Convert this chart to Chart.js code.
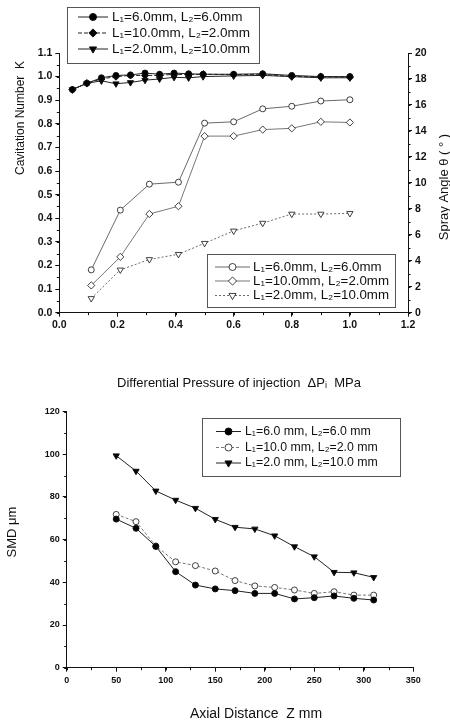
<!DOCTYPE html>
<html>
<head>
<meta charset="utf-8">
<script src="https://cdn.jsdelivr.net/npm/chart.js@4.4.0/dist/chart.umd.min.js"></script>
<style>
html, body { margin: 0; padding: 0; background: #fff; }
#wrap { position: relative; width: 450px; height: 724px; }
#top { position: absolute; left: 0; top: 0; }
#bottom { position: absolute; left: 0; top: 400px; }
</style>
</head>
<body>
<div id="wrap">
  <canvas id="top" width="450" height="400"></canvas>
  <canvas id="bottom" width="450" height="324"></canvas>
</div>
<script>
// cavitation number K vs pressure
var pressureK = [0.045, 0.095, 0.145, 0.195, 0.245, 0.295, 0.345, 0.395, 0.445, 0.495, 0.6, 0.7, 0.8, 0.9, 1.0];
var kL6  = [0.945, 0.972, 0.995, 1.005, 1.007, 1.015, 1.01, 1.015, 1.012, 1.01, 1.01, 1.012, 1.005, 1.0, 1.0];
var kL10 = [0.945, 0.972, 0.99, 1.0, 1.005, 1.005, 1.005, 1.01, 1.008, 1.01, 1.008, 1.01, 1.0, 1.0, 0.998];
var kL2  = [0.945, 0.972, 0.982, 0.97, 0.975, 0.985, 0.99, 0.997, 0.995, 1.0, 1.003, 1.005, 1.0, 0.995, 0.995];

// spray angle vs pressure
var pressureAngle = [0.11, 0.21, 0.31, 0.41, 0.5, 0.6, 0.7, 0.8, 0.9, 1.0];
var angleL6  = [3.3, 7.9, 9.9, 10.05, 14.6, 14.7, 15.7, 15.9, 16.3, 16.4];
var angleL10 = [2.1, 4.3, 7.6, 8.2, 13.6, 13.6, 14.1, 14.2, 14.7, 14.65];
var angleL2  = [1.1, 3.3, 4.1, 4.5, 5.35, 6.3, 6.9, 7.6, 7.6, 7.65];

// SMD vs axial distance
var axialZ = [50, 70, 90, 110, 130, 150, 170, 190, 210, 230, 250, 270, 290, 310];
var smdL6  = [69.6, 65.3, 56.8, 45, 38.7, 36.9, 36.1, 34.8, 34.8, 32.2, 32.8, 33.6, 32.5, 31.7];
var smdL10 = [71.8, 68.4, 57, 49.6, 47.8, 45.3, 40.8, 38.3, 37.6, 36.4, 34.8, 35.6, 34, 34];
var smdL2  = [99.3, 92.1, 82.8, 78.5, 74.7, 69.5, 65.8, 65, 61.8, 56.7, 52, 44.7, 44.5, 42.3];

var labelsTop = ['L\u2081=6.0mm, L\u2082=6.0mm', 'L\u2081=10.0mm, L\u2082=2.0mm', 'L\u2081=2.0mm, L\u2082=10.0mm'];
var labelsBottom = ['L\u2081=6.0 mm, L\u2082=6.0 mm', 'L\u2081=10.0 mm, L\u2082=2.0 mm', 'L\u2081=2.0 mm, L\u2082=10.0 mm'];

var FONT = '"Liberation Sans", Arial, Helvetica, sans-serif';
Chart.defaults.font.family = FONT;
Chart.defaults.color = '#111';

function pts(xs, ys) {
  return xs.map(function (x, i) { return { x: x, y: ys[i] }; });
}

function series(label, xs, ys, axis, style, filled, extra) {
  var ds = {
    label: label,
    data: pts(xs, ys),
    yAxisID: axis,
    borderColor: '#222',
    borderWidth: 1,
    pointStyle: style === 'down' ? 'triangle' : style,
    pointRotation: style === 'down' ? 180 : 0,
    pointRadius: style === 'circle' ? 3 : 3.6,
    pointBackgroundColor: filled ? '#000' : '#fff',
    pointBorderColor: '#111',
    pointBorderWidth: filled ? 1 : 0.8,
    tension: 0,
    fill: false
  };
  for (var k in extra) ds[k] = extra[k];
  return ds;
}

// minor ticks, free axis titles and boxed legends
var decor = {
  id: 'decor',
  afterDraw: function (chart, args, opts) {
    var ctx = chart.ctx, area = chart.chartArea;
    ctx.save();
    ctx.strokeStyle = '#111';
    ctx.lineWidth = 1;
    (opts.minor || []).forEach(function (m) {
      var s = chart.scales[m.id];
      ctx.beginPath();
      for (var v = s.min; v <= s.max + 1e-9; v += m.step) {
        var p = Math.round(s.getPixelForValue(v)) + 0.5;
        if (s.isHorizontal()) {
          ctx.moveTo(p, area.bottom); ctx.lineTo(p, area.bottom + m.len);
        } else if (s.position === 'left') {
          ctx.moveTo(area.left, p); ctx.lineTo(area.left - m.len, p);
        } else {
          ctx.moveTo(area.right, p); ctx.lineTo(area.right + m.len, p);
        }
      }
      ctx.stroke();
    });

    (opts.titles || []).forEach(function (t) {
      ctx.save();
      ctx.translate(t.x, t.y);
      ctx.rotate(t.rot || 0);
      ctx.font = t.font;
      ctx.fillStyle = '#111';
      ctx.textAlign = 'center';
      ctx.textBaseline = 'middle';
      ctx.fillText(t.text, 0, 0);
      ctx.restore();
    });

    (opts.legends || []).forEach(function (L) {
      var b = L.box;
      ctx.fillStyle = '#fff';
      ctx.fillRect(b[0], b[1], b[2], b[3]);
      ctx.strokeStyle = '#555';
      ctx.lineWidth = 1;
      ctx.strokeRect(Math.round(b[0]) + 0.5, Math.round(b[1]) + 0.5, b[2], b[3]);
      L.items.forEach(function (di, i) {
        var ds = chart.data.datasets[di];
        var y = L.rows[i];
        ctx.strokeStyle = ds.borderColor;
        ctx.lineWidth = ds.borderWidth;
        ctx.setLineDash(ds.borderDash || []);
        ctx.beginPath();
        ctx.moveTo(L.line[0], y); ctx.lineTo(L.line[1], y);
        ctx.stroke();
        ctx.setLineDash([]);
        ctx.fillStyle = ds.pointBackgroundColor;
        ctx.strokeStyle = ds.pointBorderColor;
        ctx.lineWidth = ds.pointBorderWidth;
        Chart.helpers.drawPoint(ctx, {
          pointStyle: ds.pointStyle,
          rotation: ds.pointRotation,
          radius: ds.pointRadius + 0.5,
          borderWidth: ds.pointBorderWidth
        }, (L.line[0] + L.line[1]) / 2, y);
        ctx.fillStyle = '#111';
        ctx.font = L.font;
        ctx.textAlign = 'left';
        ctx.textBaseline = 'middle';
        ctx.fillText(ds.label, L.textX, y);
      });
    });
    ctx.restore();
  }
};

function axis(extra) {
  var a = {
    type: 'linear',
    grid: { drawOnChartArea: false, tickLength: 4, color: '#111', tickColor: '#111' },
    border: { color: '#111', width: 1 },
    ticks: { color: '#111', padding: 2, font: { size: 10, weight: 'bold' } }
  };
  for (var k in extra) a[k] = extra[k];
  return a;
}

new Chart(document.getElementById('top'), {
  type: 'line',
  data: {
    datasets: [
      series(labelsTop[0], pressureK, kL6, 'y', 'circle', true, {}),
      series(labelsTop[1], pressureK, kL10, 'y', 'rectRot', true, { borderDash: [4, 2] }),
      series(labelsTop[2], pressureK, kL2, 'y', 'down', true, {}),
      series(labelsTop[0], pressureAngle, angleL6, 'y1', 'circle', false, { borderColor: '#444', borderWidth: 0.8 }),
      series(labelsTop[1], pressureAngle, angleL10, 'y1', 'rectRot', false, { borderColor: '#555', borderWidth: 0.8 }),
      series(labelsTop[2], pressureAngle, angleL2, 'y1', 'down', false, { borderColor: '#444', borderWidth: 0.8, borderDash: [2, 2] })
    ]
  },
  options: {
    responsive: false,
    animation: false,
    layout: { padding: { top: 53, left: 0, right: 0, bottom: 0 } },
    plugins: {
      legend: { display: false },
      tooltip: { enabled: false },
      decor: {
        minor: [{ id: 'x', step: 0.1, len: 2.5 }, { id: 'y', step: 0.05, len: 2.5 }, { id: 'y1', step: 1, len: 2.5 }],
        titles: [
          { text: 'Cavitation Number  K', x: 21, y: 118, rot: -Math.PI / 2, font: '12px ' + FONT },
          { text: 'Spray Angle \u03b8 ( \u00b0 )', x: 444, y: 187, rot: -Math.PI / 2, font: '13px ' + FONT },
          { text: 'Differential Pressure of injection  \u0394P\u1d62  MPa', x: 239, y: 383, font: '13px ' + FONT }
        ],
        legends: [
          { box: [67, 7, 192, 56], rows: [17, 33, 49], line: [78, 108], textX: 112, items: [0, 1, 2], font: '13.5px ' + FONT },
          { box: [207, 254, 188, 53], rows: [267, 281, 295.5], line: [215, 250], textX: 253, items: [3, 4, 5], font: '13.3px ' + FONT }
        ]
      }
    },
    scales: {
      x: axis({
        position: 'bottom', min: 0, max: 1.2,
        ticks: { color: '#111', padding: 2, stepSize: 0.2, font: { size: 10.5, weight: 'bold' },
          callback: function (v) { return v.toFixed(1); } },
        afterFit: function (s) { s.height = 87.3; }
      }),
      y: axis({
        position: 'left', min: 0, max: 1.1,
        ticks: { color: '#111', padding: 3, stepSize: 0.1, font: { size: 10.5, weight: 'bold' },
          callback: function (v) { return v.toFixed(1); } },
        afterFit: function (s) { s.width = 59.3; }
      }),
      y1: axis({
        position: 'right', min: 0, max: 20,
        ticks: { color: '#111', padding: 3, stepSize: 2, font: { size: 10.5, weight: 'bold' } },
        afterFit: function (s) { s.width = 42; }
      })
    }
  },
  plugins: [decor]
});

new Chart(document.getElementById('bottom'), {
  type: 'line',
  data: {
    datasets: [
      series(labelsBottom[0], axialZ, smdL6, 'y', 'circle', true, {}),
      series(labelsBottom[1], axialZ, smdL10, 'y', 'circle', false, { borderColor: '#555', borderWidth: 0.8, borderDash: [3, 2] }),
      series(labelsBottom[2], axialZ, smdL2, 'y', 'down', true, {})
    ]
  },
  options: {
    responsive: false,
    animation: false,
    layout: { padding: { top: 11.5, left: 0, right: 36.7, bottom: 0 } },
    plugins: {
      legend: { display: false },
      tooltip: { enabled: false },
      decor: {
        minor: [{ id: 'x', step: 25, len: 2.5 }, { id: 'y', step: 10, len: 2.5 }],
        titles: [
          { text: 'SMD \u03bcm', x: 12.5, y: 132, rot: -Math.PI / 2, font: '13px ' + FONT },
          { text: 'Axial Distance  Z mm', x: 256, y: 314, font: '14px ' + FONT }
        ],
        legends: [
          { box: [202, 18, 198, 58], rows: [31.5, 47.5, 63], line: [216, 241], textX: 245, items: [0, 1, 2], font: '12.3px ' + FONT }
        ]
      }
    },
    scales: {
      x: axis({
        position: 'bottom', min: 0, max: 350,
        ticks: { color: '#111', padding: 3, stepSize: 50, font: { size: 9, weight: 'bold' } },
        afterFit: function (s) { s.height = 56.3; }
      }),
      y: axis({
        position: 'left', min: 0, max: 120,
        ticks: { color: '#111', padding: 3, stepSize: 20, font: { size: 9, weight: 'bold' } },
        afterFit: function (s) { s.width = 66.7; }
      })
    }
  },
  plugins: [decor]
});
</script>
</body>
</html>
